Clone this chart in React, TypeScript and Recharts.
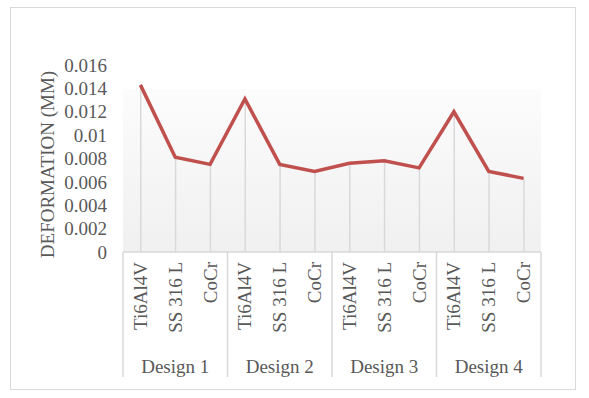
import { ComposedChart, Line, Bar, XAxis, YAxis, CartesianGrid } from "recharts";

const DESIGNS = ["Design 1", "Design 2", "Design 3", "Design 4"];
const MATERIALS = ["Ti6Al4V", "SS 316 L", "CoCr"];
// deformation (mm), one row per design, in material order
const DESIGN_1 = [0.0143, 0.0081, 0.0075];
const DESIGN_2 = [0.0131, 0.0075, 0.0069];
const DESIGN_3 = [0.0076, 0.0078, 0.0072];
const DESIGN_4 = [0.012, 0.0069, 0.0063];
const Y_TICKS = [0, 0.002, 0.004, 0.006, 0.008, 0.01, 0.012, 0.014, 0.016];

const SERIES = [DESIGN_1, DESIGN_2, DESIGN_3, DESIGN_4];

const data = DESIGNS.flatMap((design, d) =>
  MATERIALS.map((material, m) => ({
    design,
    material,
    deformation: SERIES[d][m],
  }))
);

const FONT = "'Liberation Serif', 'Times New Roman', serif";
const TEXT = "#595959";
const GRID = "#d9d9d9";
const FONT_SIZE = 19;

function MaterialTick(props: any) {
  const { x, y, payload, index, width, height, visibleTicksCount } = props;
  const count = visibleTicksCount || data.length;
  const half = width / count / 2;
  const groupEnd = y + height + 25;
  return (
    <g>
      {index % MATERIALS.length === 0 && (
        <line x1={x - half} x2={x - half} y1={y} y2={groupEnd} stroke={GRID} strokeWidth={1.5} />
      )}
      {index === count - 1 && (
        <line x1={x + half} x2={x + half} y1={y} y2={groupEnd} stroke={GRID} strokeWidth={1.5} />
      )}
      <text
        x={x}
        y={y + 10}
        transform={`rotate(-90 ${x} ${y + 10})`}
        textAnchor="end"
        dominantBaseline="central"
        fontFamily={FONT}
        fontSize={FONT_SIZE}
        fill={TEXT}
      >
        {payload.value}
      </text>
    </g>
  );
}

function DesignTick(props: any) {
  const { x, y, payload } = props;
  return (
    <text
      x={x}
      y={y + 14}
      textAnchor="middle"
      dominantBaseline="central"
      fontFamily={FONT}
      fontSize={FONT_SIZE}
      fill={TEXT}
    >
      {payload.value}
    </text>
  );
}

function YLabel(props: any) {
  const { viewBox } = props;
  const cx = viewBox.x + 34;
  const cy = viewBox.y + viewBox.height / 2 + 6;
  return (
    <text
      x={cx}
      y={cy}
      transform={`rotate(-90 ${cx} ${cy})`}
      textAnchor="middle"
      dominantBaseline="central"
      fontFamily={FONT}
      fontSize={FONT_SIZE}
      fill={TEXT}
    >
      DEFORMATION (MM)
    </text>
  );
}

export default function App() {
  return (
    <div style={{ position: "absolute", left: 0, top: 0, width: 589, height: 398, background: "#fff" }}>
      <div
        style={{
          position: "absolute",
          left: 10,
          top: 7,
          width: 566,
          height: 383,
          border: `1.5px solid ${GRID}`,
          boxSizing: "border-box",
        }}
      />
      <div style={{ position: "absolute", left: 0, top: 0 }}>
        <ComposedChart
          width={589}
          height={398}
          data={data}
          margin={{ top: 65, right: 48, bottom: 16, left: 13 }}
        >
          <defs>
            <linearGradient id="plotBg" x1="0" y1="0" x2="0" y2="1">
              <stop offset="0" stopColor="#ffffff" />
              <stop offset="0.13" stopColor="#ffffff" />
              <stop offset="0.13" stopColor="#fcfcfc" />
              <stop offset="1" stopColor="#f0f0f0" />
            </linearGradient>
          </defs>
          <CartesianGrid horizontal={false} vertical={false} fill="url(#plotBg)" />
          <XAxis
            dataKey="material"
            height={100}
            interval={0}
            tickLine={false}
            tickSize={0}
            tickMargin={0}
            axisLine={{ stroke: GRID, strokeWidth: 1.5 }}
            tick={<MaterialTick />}
          />
          <XAxis
            xAxisId="design"
            dataKey="design"
            allowDuplicatedCategory={false}
            height={30}
            interval={0}
            axisLine={false}
            tickLine={false}
            tickSize={0}
            tickMargin={0}
            tick={<DesignTick />}
          />
          <YAxis
            width={110}
            domain={[0, 0.016]}
            ticks={Y_TICKS}
            interval={0}
            axisLine={false}
            tickLine={false}
            tickSize={0}
            tickMargin={16}
            tick={{ fontFamily: FONT, fontSize: FONT_SIZE, fill: TEXT }}
            label={{ content: <YLabel /> }}
          />
          <Bar dataKey="deformation" barSize={1.5} fill={GRID} isAnimationActive={false} />
          <Line
            dataKey="deformation"
            stroke="#c0504d"
            strokeWidth={3.5}
            dot={false}
            activeDot={false}
            isAnimationActive={false}
          />
        </ComposedChart>
      </div>
    </div>
  );
}
